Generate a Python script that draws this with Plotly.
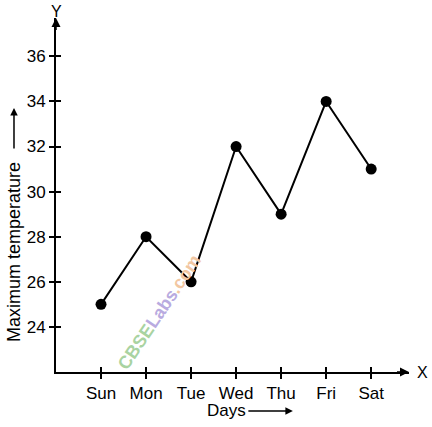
import plotly.graph_objects as go

days = ["Sun", "Mon", "Tue", "Wed", "Thu", "Fri", "Sat"]
temps = [25, 28, 26, 32, 29, 34, 31]
y_ticks = [24, 26, 28, 30, 32, 34, 36]

x_idx = list(range(len(days)))
x_range = [-1, 6.84]
y_range = [22, 37.7]
FONT = "Liberation Sans, Arial, sans-serif"

fig = go.Figure()
fig.add_trace(go.Scatter(
    x=x_idx, y=temps, mode="lines+markers",
    line=dict(color="black", width=2),
    marker=dict(color="black", size=11),
    showlegend=False, cliponaxis=False,
))

axis_common = dict(showgrid=False, zeroline=False, showline=True, linecolor="black",
                   linewidth=2, ticks="outside", ticklen=5, tickwidth=1.5, tickcolor="black",
                   tickfont=dict(family=FONT, size=17, color="black"))

fig.update_layout(
    width=432, height=427,
    margin=dict(l=56, r=23, t=18, b=55),
    plot_bgcolor="white", paper_bgcolor="white",
    xaxis=dict(range=x_range, tickvals=x_idx, ticktext=days, **axis_common),
    yaxis=dict(range=y_range, tickvals=y_ticks, ticktext=[str(v) for v in y_ticks], **axis_common),
    xaxis2=dict(range=x_range, overlaying="x", anchor="y", side="bottom", tickvals=x_idx,
                showticklabels=False, ticks="inside", ticklen=5, tickwidth=1.5, tickcolor="black",
                showgrid=False, zeroline=False, showline=False),
    yaxis2=dict(range=y_range, overlaying="y", anchor="x", side="left", tickvals=y_ticks,
                showticklabels=False, ticks="inside", ticklen=5, tickwidth=1.5, tickcolor="black",
                showgrid=False, zeroline=False, showline=False),
)
# invisible trace to activate the secondary axes
fig.add_trace(go.Scatter(x=[x_idx[0]], y=[temps[0]], xaxis="x2", yaxis="y2",
                         mode="markers", marker=dict(opacity=0), showlegend=False, hoverinfo="skip"))

ann = []
# axis arrowheads
ann.append(dict(x=x_range[1], y=y_range[0], ax=x_range[1] - 0.3, ay=y_range[0],
                xref="x", yref="y", axref="x", ayref="y", text="", showarrow=True,
                arrowhead=2, arrowsize=1.2, arrowwidth=1.5, arrowcolor="black"))
ann.append(dict(x=x_range[0], y=y_range[1], ax=x_range[0], ay=y_range[1] - 0.6,
                xref="x", yref="y", axref="x", ayref="y", text="", showarrow=True,
                arrowhead=2, arrowsize=1.2, arrowwidth=1.5, arrowcolor="black"))
# axis letters
ann.append(dict(x=0.0, y=1.0, xref="paper", yref="paper", text="Y", showarrow=False,
                xanchor="center", yanchor="bottom", yshift=-4,
                font=dict(family=FONT, size=16, color="black")))
ann.append(dict(x=1.0, y=0.0, xref="paper", yref="paper", text="X", showarrow=False,
                xanchor="left", yanchor="middle", xshift=6,
                font=dict(family=FONT, size=16, color="black")))
# axis titles
ann.append(dict(x=-0.119, y=0.339, xref="paper", yref="paper", text="Maximum temperature",
                textangle=-90, showarrow=False, xanchor="center", yanchor="middle",
                font=dict(family=FONT, size=18, color="black")))
ann.append(dict(x=-0.119, y=0.746, ax=0, ay=42, xref="paper", yref="paper",
                axref="pixel", ayref="pixel", text="", showarrow=True, arrowhead=2,
                arrowsize=1, arrowwidth=1.5, arrowcolor="black"))
ann.append(dict(x=0.482, y=-0.110, xref="paper", yref="paper", text="Days",
                showarrow=False, xanchor="center", yanchor="middle",
                font=dict(family=FONT, size=17, color="black")))
ann.append(dict(x=0.671, y=-0.110, ax=-46, ay=0, xref="paper", yref="paper",
                axref="pixel", ayref="pixel", text="", showarrow=True, arrowhead=2,
                arrowsize=1, arrowwidth=1.5, arrowcolor="black"))
# watermark (three coloured parts along a diagonal)
wm_parts = ["CBSE", "Labs", ".com"]
wm_colors = ["#a9d3a1", "#b9abe0", "#f2c7a2"]
wm_px = [(136, 347), (161.5, 309), (185, 274)]
for part, col, (px, py) in zip(wm_parts, wm_colors, wm_px):
    ann.append(dict(x=(px - 56) / 353, y=(372 - py) / 354, xref="paper", yref="paper",
                    text=part, textangle=-56, showarrow=False,
                    xanchor="center", yanchor="middle",
                    font=dict(family=FONT, size=18, color=col, weight="bold")))

fig.update_layout(annotations=ann)
fig.write_html("out.html")
